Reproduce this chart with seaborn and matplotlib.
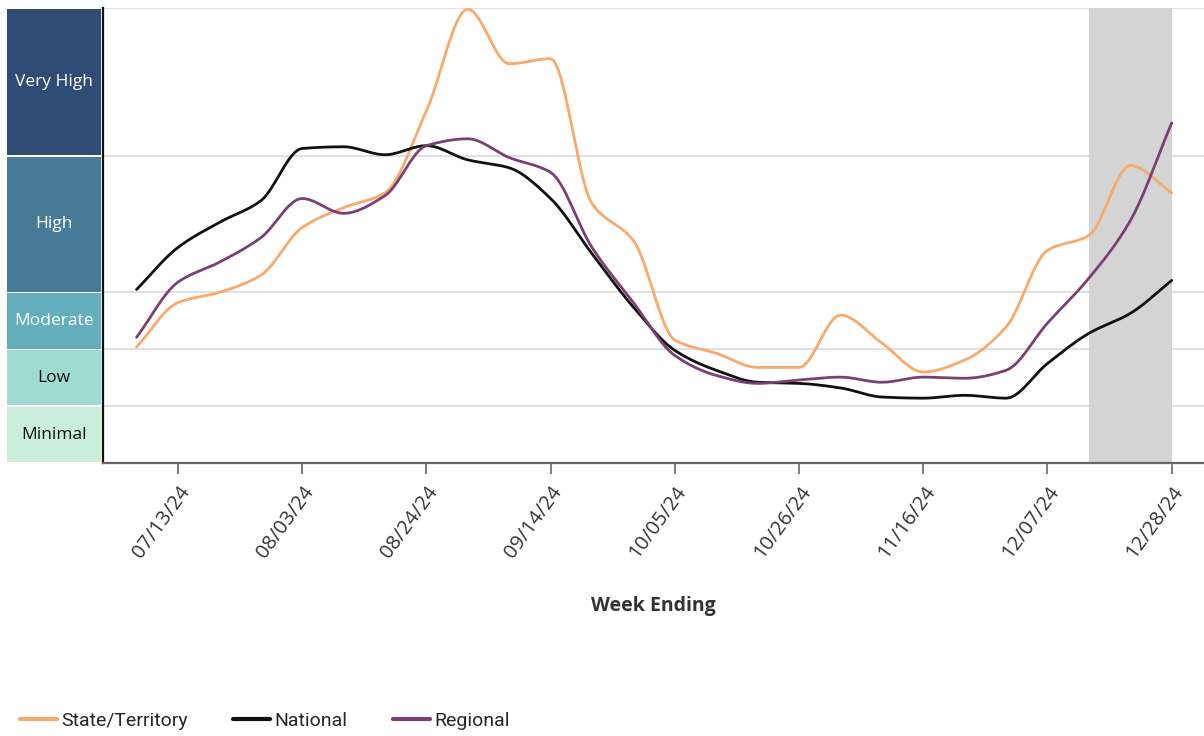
import numpy as np
import pandas as pd
import matplotlib
matplotlib.use("Agg")
import matplotlib.pyplot as plt
from matplotlib.lines import Line2D
import seaborn as sns

# weekly wastewater levels, week ending 07/06/24 .. 12/28/24
weeks = pd.date_range("2024-07-06", "2024-12-28", freq="7D")
state = [2.04, 2.82, 3.00, 3.30, 4.14, 4.49, 4.75, 6.19, 7.98, 7.02, 7.11, 4.56, 3.91,
         2.16, 1.93, 1.68, 1.68, 2.60, 2.11, 1.60, 1.81, 2.39, 3.74, 4.00, 5.23, 4.75]
national = [3.05, 3.79, 4.23, 4.61, 5.53, 5.56, 5.42, 5.58, 5.33, 5.19, 4.65, 3.68, 2.74,
            1.98, 1.63, 1.42, 1.40, 1.32, 1.16, 1.14, 1.19, 1.14, 1.75, 2.28, 2.63, 3.21]
regional = [2.21, 3.18, 3.53, 3.96, 4.65, 4.39, 4.70, 5.58, 5.70, 5.37, 5.11, 3.79, 2.82,
            1.89, 1.54, 1.40, 1.46, 1.51, 1.42, 1.51, 1.49, 1.63, 2.46, 3.25, 4.26, 5.98]

series_names = ["State/Territory", "National", "Regional"]
series_colors = ["#f8a96b", "#111111", "#7c3f74"]

levels = ["Minimal", "Low", "Moderate", "High", "Very High"]
level_edges = [0.0, 1.0, 2.0, 3.0, 5.4, 8.0]
level_colors = ["#c9eedb", "#a0dbd1", "#65aebe", "#487b98", "#2f4d74"]
level_text = ["#111111", "#111111", "white", "white", "white"]

provisional_start = 23  # 12/14/24 onward shaded
tick_idx = list(range(1, len(weeks), 3))
tick_labels = [weeks[i].strftime("%m/%d/%y") for i in tick_idx]


def monotone_path(y, n=16):
    # monotone cubic hermite, just for drawing smooth curves between the weekly points
    y = np.asarray(y, float)
    x = np.arange(len(y), dtype=float)
    d = np.diff(y)
    m = np.zeros_like(y)
    m[0], m[-1] = d[0], d[-1]
    for i in range(1, len(y) - 1):
        if d[i - 1] * d[i] > 0:
            m[i] = 2 / (1 / d[i - 1] + 1 / d[i])
    xs, ys = [], []
    for i in range(len(y) - 1):
        t = np.linspace(0, 1, n, endpoint=False)
        h00 = 2 * t**3 - 3 * t**2 + 1
        h10 = t**3 - 2 * t**2 + t
        h01 = -2 * t**3 + 3 * t**2
        h11 = t**3 - t**2
        xs.append(x[i] + t)
        ys.append(h00 * y[i] + h10 * m[i] + h01 * y[i + 1] + h11 * m[i + 1])
    xs.append([x[-1]])
    ys.append([y[-1]])
    return np.concatenate(xs), np.concatenate(ys)


frames = []
for name, vals in zip(series_names, [state, national, regional]):
    sx, sy = monotone_path(vals)
    frames.append(pd.DataFrame({"week": sx, "level": sy, "series": name}))
df = pd.concat(frames, ignore_index=True)

sns.set_style("white")
plt.rcParams["font.family"] = ["Open Sans", "DejaVu Sans"]

fig = plt.figure(figsize=(12.04, 7.36), dpi=100)
ax = fig.add_axes([103 / 1204, 1 - 463 / 736, 1 - 103 / 1204, 455 / 736])

for e in level_edges[1:]:
    ax.axhline(e, color="#dddddd", lw=1.3, zorder=0)
ax.axvspan(provisional_start, len(weeks) - 1, color="#d4d4d4", lw=0, zorder=0.5)

sns.lineplot(data=df, x="week", y="level", hue="series", hue_order=series_names,
             palette=series_colors, linewidth=2.0, estimator=None, legend=False,
             ax=ax, zorder=3)

ax.set_xlim(-0.81, 25.78)
ax.set_ylim(0, 8.0)
ax.set_yticks([])
ax.set_ylabel("")
ax.set_xticks(tick_idx)
ax.set_xticklabels(tick_labels, rotation=54, ha="right", rotation_mode="anchor",
                   fontsize=14.5, color="#333333")
ax.tick_params(axis="x", length=8, width=1.2, color="#666666", bottom=True, pad=6)
ax.set_xlabel("Week Ending", fontsize=14, fontweight="bold", color="#333333", labelpad=24)

for side in ["top", "right"]:
    ax.spines[side].set_visible(False)
ax.spines["left"].set_color("#111111")
ax.spines["left"].set_linewidth(1.6)
ax.spines["bottom"].set_color("#666666")
ax.spines["bottom"].set_linewidth(1.6)

# level bands on the left
lev = fig.add_axes([7 / 1204, 1 - 463 / 736, 94 / 1204, 455 / 736])
lev.set_xlim(0, 1)
lev.set_ylim(0, 8.0)
lev.axis("off")
gap = 0.012
for name, lo, hi, c, tc in zip(levels, level_edges[:-1], level_edges[1:], level_colors, level_text):
    lev.axhspan(lo + gap, hi - gap, color=c, lw=0)
    lev.text(0.5, (lo + hi) / 2, name, ha="center", va="center", fontsize=12.5, color=tc)

handles = [Line2D([], [], color=c, lw=3) for c in series_colors]
fig.legend(handles, series_names, loc="lower left", bbox_to_anchor=(0.002, -0.016),
           ncol=3, frameon=False, handlelength=1.9, handletextpad=0.25,
           columnspacing=2.3, prop={"family": ["Roboto", "DejaVu Sans"], "size": 14})

fig.savefig("out.png", dpi=100)
